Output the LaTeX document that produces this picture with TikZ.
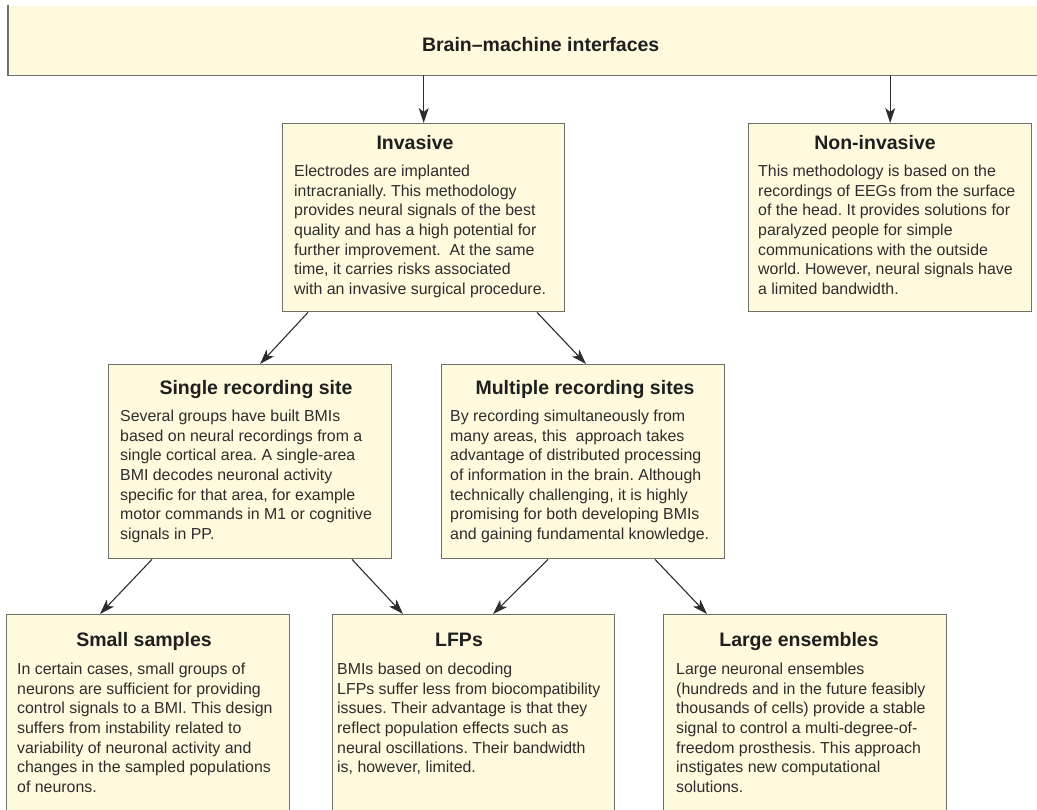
\documentclass[tikz,border=0pt]{standalone}
\usepackage{fontspec}
\setmainfont{Liberation Sans}
\usepackage{xcolor}
\usetikzlibrary{arrows.meta, positioning}
\definecolor{boxfill}{RGB}{255,249,221}
\definecolor{boxline}{RGB}{112,112,106}
\definecolor{inkgray}{RGB}{45,45,45}
\tikzset{
  panel/.style={
    rectangle, draw=boxline, line width=1.4pt, fill=boxfill,
    anchor=north west, inner sep=0pt
  },
  arr/.style={-{Stealth[length=15pt, width=10pt, inset=4pt]}, line width=1.1pt, inkgray}
}
\frenchspacing

\begin{document}
\begin{tikzpicture}[x=1pt, y=-1pt,
  head/.style={anchor=base, inner sep=0pt, text=black!88,
               font=\fontsize{19.5}{23}\selectfont\bfseries},
  body/.style={anchor=north west, inner sep=0pt, align=left, text=inkgray,
               font=\fontsize{15.9}{19.7}\selectfont}]
  \useasboundingbox (0,0) rectangle (1037,810);
  \clip (0,0) rectangle (1037,810);

  % top banner
  \node[panel, draw=none, minimum width=1064pt, minimum height=69pt] (bmi) at (8,5) {};
  \draw[boxline, line width=1.4pt] (bmi.north west) -- (bmi.south west) -- (bmi.south east);
  \node[head] (bmi-h) at ([yshift=-47pt]bmi.north) {Brain–machine interfaces};

  % boxes
  \node[panel, minimum width=282pt, minimum height=188pt] (inv)    at (282,123) {};
  \node[panel, minimum width=283pt, minimum height=188pt] (noninv) at (748,123) {};
  \node[panel, minimum width=283pt, minimum height=194pt] (single) at (108,364) {};
  \node[panel, minimum width=283pt, minimum height=194pt] (multi)  at (441,364) {};
  \node[panel, minimum width=283pt, minimum height=240pt] (small)  at (6,614) {};
  \node[panel, minimum width=282pt, minimum height=240pt] (lfp)    at (332,614) {};
  \node[panel, minimum width=283pt, minimum height=240pt] (large)  at (663,614) {};

  % titles
  \node[head] (inv-h)    at ([xshift=133pt, yshift=-27pt]inv.north west)    {Invasive};
  \node[head] (noninv-h) at ([xshift=127pt, yshift=-27pt]noninv.north west) {Non-invasive};
  \node[head] (single-h) at ([xshift=148pt, yshift=-31pt]single.north west) {Single recording site};
  \node[head] (multi-h)  at ([xshift=144pt, yshift=-31pt]multi.north west)  {Multiple recording sites};
  \node[head] (small-h)  at ([xshift=138pt, yshift=-32pt]small.north west)  {Small samples};
  \node[head] (lfp-h)    at ([xshift=127pt, yshift=-32pt]lfp.north west)    {LFPs};
  \node[head] (large-h)  at ([xshift=136pt, yshift=-32pt]large.north west)  {Large ensembles};

  % texts
  \node[body] (inv-t) at ([xshift=12pt, yshift=-41.6pt]inv.north west)
    {Electrodes are implanted\\ intracranially. This methodology\\ provides neural signals of the best\\
     quality and has a high potential for\\ further improvement.~ At the same\\
     time, it carries risks associated\\ with an invasive surgical procedure.};
  \node[body] (noninv-t) at ([xshift=10pt, yshift=-41.6pt]noninv.north west)
    {This methodology is based on the\\ recordings of EEGs from the surface\\ of the head. It provides solutions for\\
     paralyzed people for simple\\ communications with the outside\\ world. However, neural signals have\\
     a limited bandwidth.};
  \node[body] (single-t) at ([xshift=12pt, yshift=-45.6pt]single.north west)
    {Several groups have built BMIs\\ based on neural recordings from a\\ single cortical area. A single-area\\
     BMI decodes neuronal activity\\ specific for that area, for example\\ motor commands in M1 or cognitive\\
     signals in PP.};
  \node[body] (multi-t) at ([xshift=9pt, yshift=-45.6pt]multi.north west)
    {By recording simultaneously from\\ many areas, this~ approach takes\\ advantage of distributed processing\\
     of information in the brain. Although\\ technically challenging, it is highly\\
     promising for both developing BMIs\\ and gaining fundamental knowledge.};
  \node[body] (small-t) at ([xshift=11pt, yshift=-48.6pt]small.north west)
    {In certain cases, small groups of\\ neurons are sufficient for providing\\ control signals to a BMI. This design\\
     suffers from instability related to\\ variability of neuronal activity and\\
     changes in the sampled populations\\ of neurons.};
  \node[body] (lfp-t) at ([xshift=5pt, yshift=-48.6pt]lfp.north west)
    {BMIs based on decoding\\ LFPs suffer less from biocompatibility\\ issues. Their advantage is that they\\
     reflect population effects such as\\ neural oscillations. Their bandwidth\\ is, however, limited.};
  \node[body] (large-t) at ([xshift=13pt, yshift=-48.6pt]large.north west)
    {Large neuronal ensembles\\ (hundreds and in the future feasibly\\ thousands of cells) provide a stable\\
     signal to control a multi-degree-of-\\ freedom prosthesis. This approach\\
     instigates new computational\\ solutions.};

  % arrows
  \draw[arr] (bmi.south -| inv.north) -- (inv.north);
  \draw[arr] (bmi.south -| noninv.north) -- (noninv.north);
  \foreach \f/\fx/\t/\tx in {inv/26/single/152, inv/255/multi/145, single/44/small/94,
                            single/244/lfp/71, multi/107/lfp/161, multi/214/large/44}
    \draw[arr] ([xshift=\fx pt]\f.south west) -- ([xshift=\tx pt]\t.north west);
\end{tikzpicture}
\end{document}
